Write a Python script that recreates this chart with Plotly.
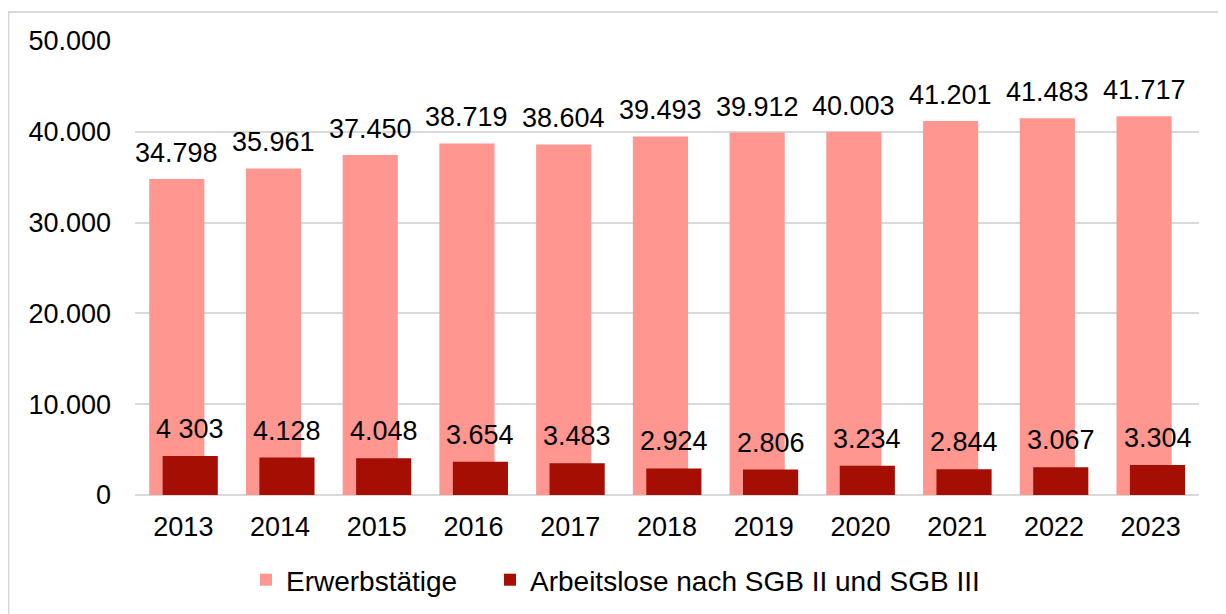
import plotly.graph_objects as go

years = ["2013", "2014", "2015", "2016", "2017", "2018", "2019", "2020", "2021", "2022", "2023"]
erwerbstaetige = [34798, 35961, 37450, 38719, 38604, 39493, 39912, 40003, 41201, 41483, 41717]
arbeitslose = [4303, 4128, 4048, 3654, 3483, 2924, 2806, 3234, 2844, 3067, 3304]
labels_erw = ["34.798", "35.961", "37.450", "38.719", "38.604", "39.493", "39.912", "40.003", "41.201", "41.483", "41.717"]
labels_arb = ["4 303", "4.128", "4.048", "3.654", "3.483", "2.924", "2.806", "3.234", "2.844", "3.067", "3.304"]
ytick_vals = [0, 10000, 20000, 30000, 40000, 50000]
ytick_text = ["0", "10.000", "20.000", "30.000", "40.000", "50.000"]

PINK = "#FF968F"
DARK = "#A50E02"
FONT = "Liberation Sans, Arial, sans-serif"
FS = 27
LFS = 28

x = list(range(len(years)))
bw = 0.57
off_pink = -0.353
off_dark = -0.214

W, H = 1218, 606
L, T, PW, PH = 127, 33, 1064, 454.5

fig = go.Figure()
fig.add_trace(go.Bar(x=x, y=erwerbstaetige, name="Erwerbstätige", marker_color=PINK,
                     width=bw, offset=off_pink, marker_line_width=0, legend="legend",
                     showlegend=True))
fig.add_trace(go.Bar(x=x, y=arbeitslose, name="Arbeitslose nach SGB II und SGB III", marker_color=DARK,
                     width=bw, offset=off_dark, marker_line_width=0, legend="legend2",
                     showlegend=True))

annotations = []
for i, (v, t) in enumerate(zip(erwerbstaetige, labels_erw)):
    annotations.append(dict(x=i + off_pink + bw / 2, y=v, text=t, showarrow=False,
                            yanchor="bottom", yshift=9, font=dict(size=FS, color="#000", family=FONT)))
for i, (v, t) in enumerate(zip(arbeitslose, labels_arb)):
    annotations.append(dict(x=i + off_dark + bw / 2, y=v, text=t, showarrow=False,
                            yanchor="bottom", yshift=10, font=dict(size=FS, color="#000", family=FONT)))

def px(fx):
    return (fx - L) / PW

def py(fy):
    return (T + PH - fy) / PH

legend_common = dict(orientation="h", xref="container", yref="container", xanchor="left",
                     y=1 - (580 - 8) / H, yanchor="middle", font=dict(size=LFS, family=FONT),
                     itemwidth=30, bgcolor="rgba(0,0,0,0)", borderwidth=0, visible=True)

fig.update_layout(
    width=W, height=H,
    showlegend=True,
    margin=dict(l=L, r=W - L - PW, t=T, b=H - T - PH),
    paper_bgcolor="white", plot_bgcolor="white",
    barmode="overlay",
    font=dict(family=FONT, size=FS, color="#000"),
    xaxis=dict(range=[-0.5, len(years) - 0.5], tickvals=x, ticktext=years, showgrid=False,
               zeroline=False, showline=False, ticks="", ticklabelstandoff=13,
               tickfont=dict(size=FS)),
    yaxis=dict(range=[0, 50000], tickvals=ytick_vals, ticktext=ytick_text, showgrid=True,
               gridcolor="#D9D9D9", gridwidth=1.5, zeroline=True, zerolinecolor="#D9D9D9",
               zerolinewidth=1.5, showline=False, ticks="", ticklabelstandoff=23,
               tickfont=dict(size=FS)),
    legend=dict(legend_common, x=(278 - 40) / W),
    legend2=dict(legend_common, x=(522 - 40) / W),
    annotations=annotations,
    shapes=[
        dict(type="line", xref="paper", yref="paper", x0=px(0), x1=px(W + 20),
             y0=py(4), y1=py(4), line=dict(color="#D9D9D9", width=2), layer="below"),
        dict(type="line", xref="paper", yref="paper", x0=px(0.5), x1=px(0.5),
             y0=py(4), y1=py(H + 20), line=dict(color="#D9D9D9", width=2), layer="below"),
    ],
)

fig.write_html("out.html")
